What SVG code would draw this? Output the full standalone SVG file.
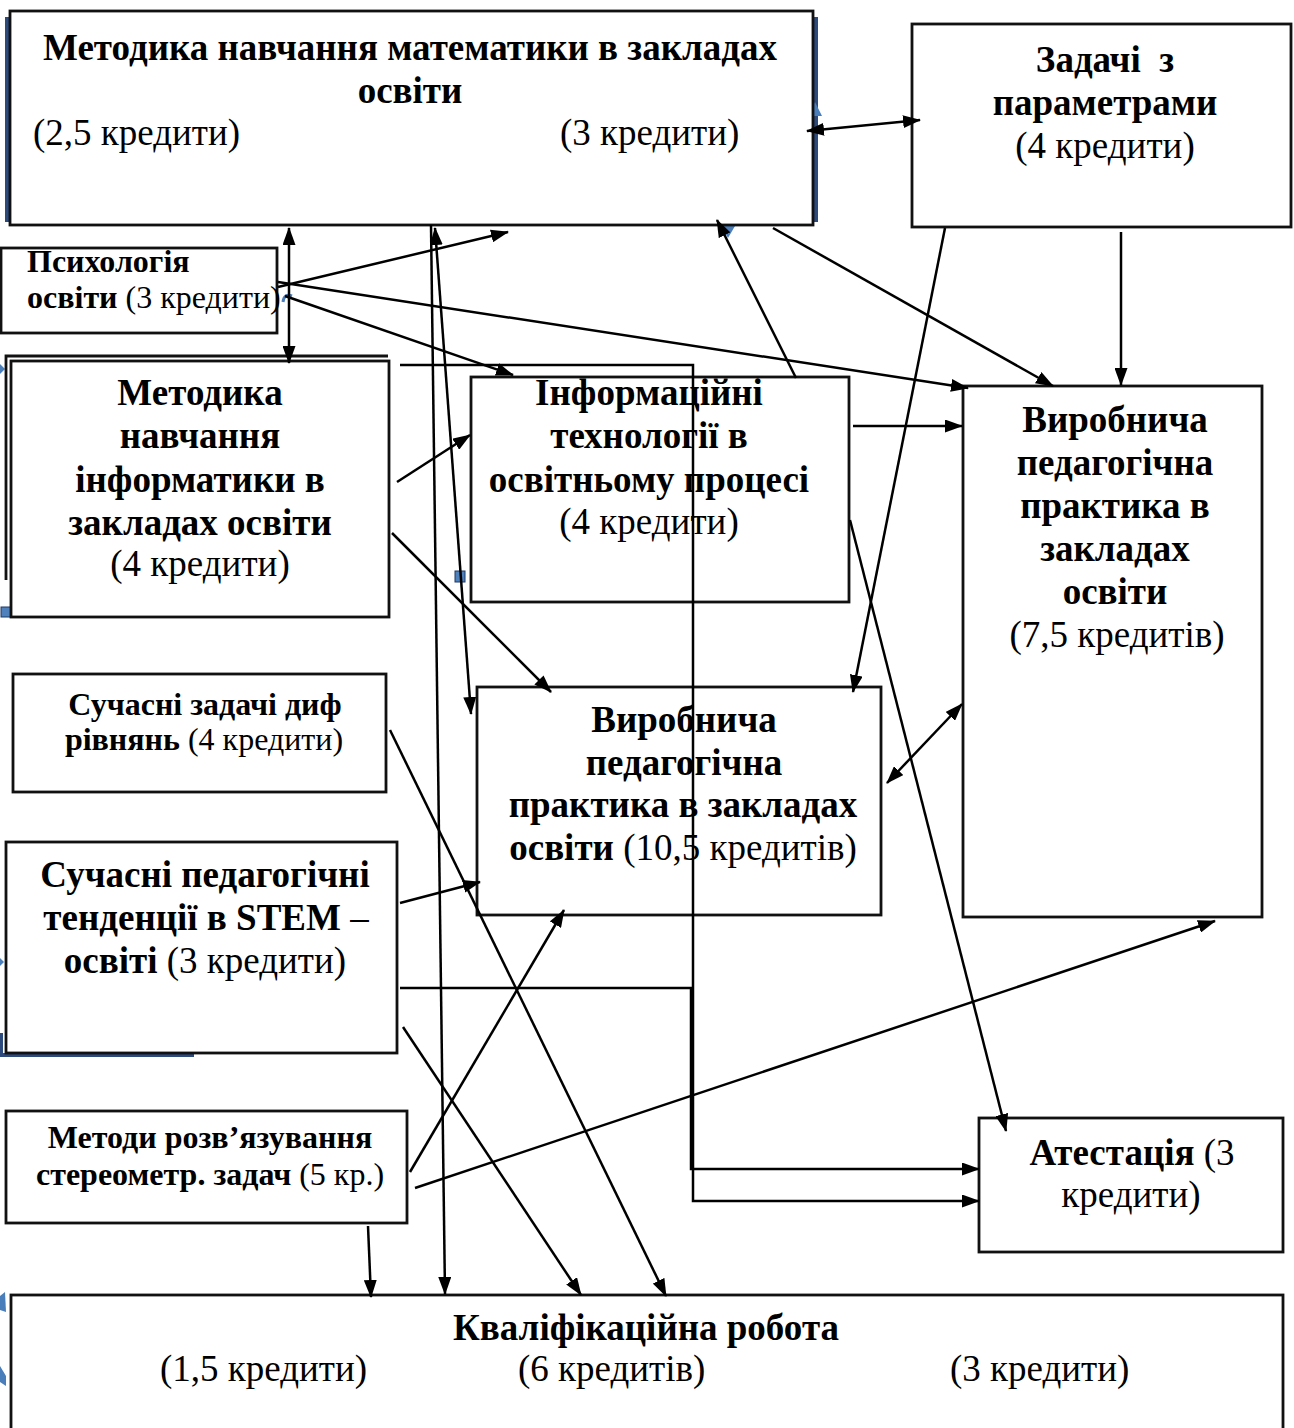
<svg xmlns="http://www.w3.org/2000/svg" width="1294" height="1428" viewBox="0 0 1294 1428">
<style>
.box{fill:#fff;stroke:#111;stroke-width:2.8}
.ln{fill:none;stroke:#000;stroke-width:2.5}
.t{font-family:"Liberation Serif","Times New Roman",serif;font-size:37px;fill:#000}
.s{font-size:32px}
.b{font-weight:bold}
.c{text-anchor:middle}
.blue{fill:#4a7ebb}
.navy{fill:#2c4a7c}
</style>
<defs>
<marker id="ah" markerUnits="userSpaceOnUse" markerWidth="18" markerHeight="13" refX="17" refY="6.5" orient="auto-start-reverse">
<path d="M0,0 L18,6.5 L0,13 z" fill="#000"/>
</marker>
</defs>
<rect width="1294" height="1428" fill="#fff"/>

<g id="artifacts">
<rect class="navy" x="5" y="17" width="5" height="205"/>
<rect class="navy" x="813" y="17" width="5" height="205"/>
<polygon class="blue" points="815,102 808,116 822,116"/>
<polygon class="blue" points="721,226 735,226 728,238"/>
<path d="M283,302 Q284,293 292,296" fill="none" stroke="#4a7ebb" stroke-width="3"/>
<rect class="blue" x="0" y="270" width="3" height="35"/>
<polygon class="blue" points="0,364 5,369 0,374"/>
<rect x="1" y="607" width="10" height="10" fill="#4f81bd" stroke="#1f3864" stroke-width="1"/>
<rect x="455" y="571" width="10" height="11" fill="#4f81bd" stroke="#1f3864" stroke-width="1"/>
<rect class="navy" x="0" y="1053" width="194" height="4"/>
<rect class="navy" x="0" y="1033" width="3" height="24"/>
<polygon class="blue" points="0,958 4,962 0,966"/>
<polygon class="blue" points="0,1296 5,1292 6,1312 0,1310"/>
<polygon class="blue" points="0,1366 6,1376 6,1386 0,1382"/>
</g>

<g id="n-math">
<rect class="box" x="10" y="11" width="803" height="214"/>
<text class="t b c" x="410" y="60">Методика навчання математики в закладах</text>
<text class="t b c" x="410" y="103">освіти</text>
<text class="t" x="33" y="145">(2,5 кредити)</text>
<text class="t" x="560" y="145">(3 кредити)</text>
</g>

<g id="n-params">
<rect class="box" x="912" y="24" width="379" height="203"/>
<text class="t b c" x="1105" y="72" xml:space="preserve">Задачі  з</text>
<text class="t b c" x="1105" y="115">параметрами</text>
<text class="t c" x="1105" y="158">(4 кредити)</text>
</g>

<g id="n-psych">
<rect class="box" x="1" y="248" width="276" height="85"/>
<text class="t s b" x="27" y="272">Психологія</text>
<text class="t s" x="27" y="308"><tspan class="b">освіти</tspan> (3 кредити)</text>
</g>

<g id="n-inf">
<path d="M6,580 V356 H388" fill="none" stroke="#111" stroke-width="2.8"/>
<rect class="box" x="11" y="361" width="378" height="256"/>
<text class="t b c" x="200" y="405">Методика</text>
<text class="t b c" x="200" y="448">навчання</text>
<text class="t b c" x="200" y="492">інформатики в</text>
<text class="t b c" x="200" y="535">закладах освіти</text>
<text class="t c" x="200" y="576">(4 кредити)</text>
</g>

<g id="n-it">
<rect class="box" x="471" y="377" width="378" height="225"/>
<text class="t b c" x="649" y="405">Інформаційні</text>
<text class="t b c" x="649" y="448">технології в</text>
<text class="t b c" x="649" y="492">освітньому процесі</text>
<text class="t c" x="649" y="534">(4 кредити)</text>
</g>

<g id="n-prac75">
<rect class="box" x="963" y="386" width="299" height="531"/>
<text class="t b c" x="1115" y="432">Виробнича</text>
<text class="t b c" x="1115" y="475">педагогічна</text>
<text class="t b c" x="1115" y="518">практика в</text>
<text class="t b c" x="1115" y="561">закладах</text>
<text class="t b c" x="1115" y="604">освіти</text>
<text class="t c" x="1117" y="647">(7,5 кредитів)</text>
</g>

<g id="n-diff">
<rect class="box" x="13" y="674" width="373" height="118"/>
<text class="t s b c" x="205" y="715">Сучасні задачі диф</text>
<text class="t s c" x="204" y="750"><tspan class="b">рівнянь</tspan> (4 кредити)</text>
</g>

<g id="n-prac105">
<rect class="box" x="477" y="687" width="404" height="228"/>
<text class="t b c" x="684" y="732">Виробнича</text>
<text class="t b c" x="684" y="775">педагогічна</text>
<text class="t b c" x="683" y="817">практика в закладах</text>
<text class="t c" x="683" y="860"><tspan class="b">освіти</tspan> (10,5 кредитів)</text>
</g>

<g id="n-stem">
<rect class="box" x="6" y="842" width="391" height="211"/>
<text class="t b c" x="205" y="887">Сучасні педагогічні</text>
<text class="t c" x="206" y="930"><tspan class="b">тенденції в STEM</tspan> –</text>
<text class="t c" x="205" y="973"><tspan class="b">освіті</tspan> (3 кредити)</text>
</g>

<g id="n-stereo">
<rect class="box" x="6" y="1111" width="401" height="112"/>
<text class="t s b c" x="210" y="1148">Методи розв’язування</text>
<text class="t s c" x="210" y="1185"><tspan class="b">стереометр. задач</tspan> (5 кр.)</text>
</g>

<g id="n-attest">
<rect class="box" x="979" y="1118" width="304" height="134"/>
<text class="t c" x="1132" y="1165"><tspan class="b">Атестація</tspan> (3</text>
<text class="t c" x="1131" y="1207">кредити)</text>
</g>

<g id="n-thesis">
<rect class="box" x="11" y="1295" width="1272" height="150"/>
<text class="t b c" x="646" y="1340">Кваліфікаційна робота</text>
<text class="t" x="160" y="1381">(1,5 кредити)</text>
<text class="t" x="518" y="1381">(6 кредитів)</text>
<text class="t" x="950" y="1381">(3 кредити)</text>
</g>

<g id="connectors">
<line class="ln" x1="807" y1="131" x2="920" y2="120" marker-start="url(#ah)" marker-end="url(#ah)"/>
<line class="ln" x1="289" y1="228" x2="289" y2="363" marker-start="url(#ah)" marker-end="url(#ah)"/>
<line class="ln" x1="278" y1="287" x2="508" y2="232" marker-end="url(#ah)"/>
<line class="ln" x1="278" y1="282" x2="968" y2="388" marker-end="url(#ah)"/>
<line class="ln" x1="285" y1="296" x2="513" y2="375" marker-end="url(#ah)"/>
<polyline class="ln" points="400,365 693,365 693,1201 979,1201" marker-end="url(#ah)"/>
<polyline class="ln" points="400,988 691,988 691,1169 979,1169" marker-end="url(#ah)"/>
<line class="ln" x1="431" y1="225" x2="445" y2="1294" marker-end="url(#ah)"/>
<line class="ln" x1="435" y1="228" x2="471" y2="714" marker-start="url(#ah)" marker-end="url(#ah)"/>
<line class="ln" x1="796" y1="378" x2="717" y2="220" marker-end="url(#ah)"/>
<line class="ln" x1="773" y1="228" x2="1053" y2="386" marker-end="url(#ah)"/>
<line class="ln" x1="1121" y1="232" x2="1121" y2="385" marker-end="url(#ah)"/>
<line class="ln" x1="945" y1="228" x2="853" y2="692" marker-end="url(#ah)"/>
<line class="ln" x1="397" y1="482" x2="470" y2="435" marker-end="url(#ah)"/>
<line class="ln" x1="392" y1="533" x2="551" y2="692" marker-end="url(#ah)"/>
<line class="ln" x1="853" y1="426" x2="962" y2="426" marker-end="url(#ah)"/>
<line class="ln" x1="850" y1="520" x2="1006" y2="1131" marker-end="url(#ah)"/>
<line class="ln" x1="887" y1="783" x2="962" y2="704" marker-start="url(#ah)" marker-end="url(#ah)"/>
<line class="ln" x1="390" y1="730" x2="666" y2="1296" marker-end="url(#ah)"/>
<line class="ln" x1="400" y1="903" x2="480" y2="882" marker-end="url(#ah)"/>
<line class="ln" x1="403" y1="1027" x2="581" y2="1295" marker-end="url(#ah)"/>
<line class="ln" x1="410" y1="1172" x2="564" y2="910" marker-end="url(#ah)"/>
<line class="ln" x1="415" y1="1188" x2="1215" y2="921" marker-end="url(#ah)"/>
<line class="ln" x1="368" y1="1226" x2="371" y2="1297" marker-end="url(#ah)"/>
</g>
</svg>
